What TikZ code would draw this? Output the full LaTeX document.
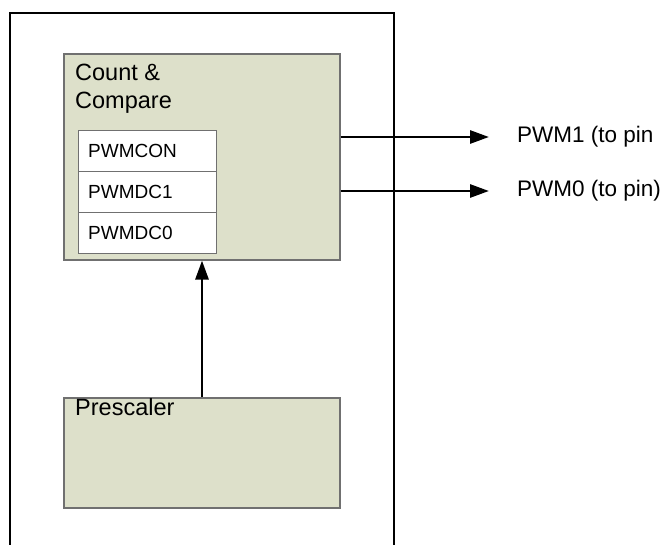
\documentclass[tikz,border=0pt]{standalone}
\usepackage{fontspec}
\setmainfont{Liberation Sans}
\usetikzlibrary{arrows.meta}
\definecolor{blockfill}{RGB}{221,224,202}
\definecolor{blockline}{RGB}{112,112,112}

\begin{document}
\begin{tikzpicture}[x=1pt,y=-1pt]
% Define the node styles
\tikzstyle{frame} = [draw=black, line width=1.6pt, minimum width=384pt, minimum height=560pt, inner sep=0pt]
\tikzstyle{block} = [draw=blockline, fill=blockfill, line width=1.1pt, inner sep=0pt]
\tikzstyle{reg} = [draw=blockline, fill=white, line width=1pt, minimum width=138pt, minimum height=41pt, inner sep=0pt]
\tikzstyle{title} = [inner sep=0pt, align=left, font=\fontsize{23.5}{28}\selectfont]
\tikzstyle{regtext} = [inner sep=0pt, font=\fontsize{19}{22}\selectfont]
\tikzstyle{pin} = [inner sep=0pt, font=\fontsize{22.5}{26}\selectfont]
\tikzstyle{sig} = [line width=2.8pt, -{Triangle[length=19pt,width=13pt]}]

\clip (0,0) rectangle (669,544);

% Define the nodes
\node[frame] (outer) at (202,293) {};
\node[block, minimum width=276pt, minimum height=206pt] (cc) at (202,157) {};
\node[title, anchor=north west] (cctext) at (75,64) {Count \&\\Compare};
\node[reg] (con) at (147,150.5) {};
\node[reg] (dc1) at (147,191.5) {};
\node[reg] (dc0) at (147,232.5) {};
\node[regtext, anchor=west] at (88,150.5) {PWMCON};
\node[regtext, anchor=west] at (88,191.5) {PWMDC1};
\node[regtext, anchor=west] at (88,232.5) {PWMDC0};
\node[block, minimum width=276pt, minimum height=110pt] (pre) at (202,453) {};
\node[title, anchor=north west] (pretext) at (75,398) {Prescaler};

\node[pin, anchor=west] (pwm1) at (517,137) {PWM1 (to pin};
\node[pin, anchor=west] (pwm0) at (517,191) {PWM0 (to pin)};
\coordinate (o1) at (489,137);
\coordinate (o0) at (489,191);

% Define the transitions
\draw[sig] (pre.north) -- (cc.south);
\draw[sig] (cc.east |- o1) -- (o1);
\draw[sig] (cc.east |- o0) -- (o0);

\end{tikzpicture}
\end{document}
